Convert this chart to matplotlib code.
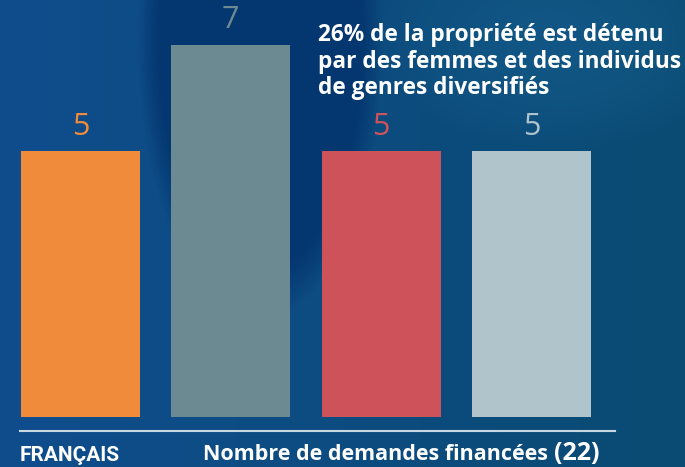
import numpy as np
import matplotlib
matplotlib.use("Agg")
import matplotlib.pyplot as plt
from matplotlib.colors import to_rgb

# ---- data ----
categories = ["A", "B", "C", "D"]
values = [5, 7, 5, 5]
bar_colors = ["#ef8b3b", "#6b8a92", "#cd525a", "#b0c4cb"]
label_colors = ["#ef8b3b", "#6d8a93", "#d0525a", "#afc3ca"]
headline = "26% de la propriété est détenu\npar des femmes et des individus\nde genres diversifiés"
lang_label = "FRANÇAIS"
footer_label = "Nombre de demandes financées"
footer_total = "(22)"

W, H = 685, 467
DPI = 100
fig = plt.figure(figsize=(W / DPI, H / DPI), dpi=DPI)

# ---- background gradient ----
bg = fig.add_axes([0, 0, 1, 1], zorder=0)
yy, xx = np.mgrid[0:H, 0:W].astype(float)
left = np.array(to_rgb("#0f4d8d"))
right = np.array(to_rgb("#0a4b73"))
t = (xx / (W - 1))[..., None]
img = left * (1 - t) + right * t
# dark blob in upper centre
dark = np.array(to_rgb("#04376f"))
d = ((xx - 260) / 110) ** 2 + ((yy - 40) / 250) ** 2
w = np.clip((1.25 - d) * 2.5, 0, 1)[..., None]
img = img * (1 - w) + dark * w
# lighter glow upper right
light = np.array(to_rgb("#155d8c"))
d2 = ((xx - 560) / 180) ** 2 + ((yy - 40) / 110) ** 2
w2 = np.clip(1.0 - d2, 0, 1)[..., None] * 0.6
img = img * (1 - w2) + light * w2
bg.imshow(img, extent=[0, W, H, 0], aspect="auto", interpolation="bilinear")
bg.set_xlim(0, W)
bg.set_ylim(H, 0)
bg.axis("off")

# ---- bars ----
base_px = 417
ax = fig.add_axes([0, (H - base_px) / H, 1, base_px / H], zorder=1)
ax.patch.set_alpha(0)
x = np.arange(len(categories))
step = 150.3
ax.set_xlim((0 - 80.5) / step, (W - 80.5) / step)
px_per_unit = 372 / 7
ax.set_ylim(0, base_px / px_per_unit)
ax.bar(x, values, width=119 / step, color=bar_colors)
for xi, v, c in zip(x, values, label_colors):
    ax.annotate(str(v), (xi, v), xytext=(0, 7), textcoords="offset points",
                ha="center", va="bottom", color=c, fontsize=22,
                family="Open Sans", fontweight="normal", annotation_clip=False)
ax.axis("off")

# ---- texts ----
fig.text(318 / W, 1 - 23 / H, headline, ha="left", va="top", color="white",
         fontsize=16.3, family="Open Sans", fontweight="bold", linespacing=1.15)

fig.add_artist(plt.Line2D([20 / W, 615 / W], [1 - 431 / H, 1 - 431 / H],
                          color="#c9d7e2", lw=1.5))

fig.text(20 / W, 1 - 461 / H, lang_label, ha="left", va="baseline",
         color="white", fontsize=15, family="Roboto", fontweight="bold")
t1 = fig.text(203 / W, 1 - 460 / H, footer_label + " ", ha="left", va="baseline",
              color="white", fontsize=15.5, family="Open Sans", fontweight="bold")
fig.canvas.draw()
bb = t1.get_window_extent()
fig.text(bb.x1 / W, 1 - 460 / H, footer_total, ha="left", va="baseline",
         color="white", fontsize=18, family="Open Sans", fontweight="bold")

fig.savefig("out.png", dpi=DPI)
